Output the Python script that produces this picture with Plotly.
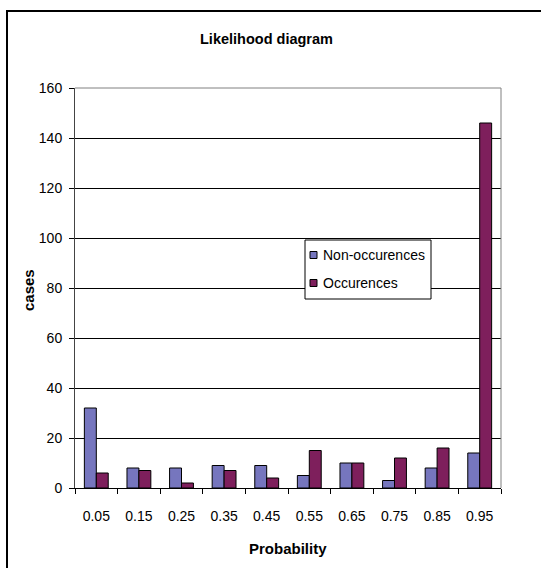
import plotly.graph_objects as go

# Probability bins and case counts per bin
probability = ["0.05", "0.15", "0.25", "0.35", "0.45", "0.55", "0.65", "0.75", "0.85", "0.95"]
non_occurences = [32, 8, 8, 9, 9, 5, 10, 3, 8, 14]
occurences = [6, 7, 2, 7, 4, 15, 10, 12, 16, 146]
y_ticks = [0, 20, 40, 60, 80, 100, 120, 140, 160]
series_names = ["Non-occurences", "Occurences"]
series_colors = ["#7676BE", "#7E1F5C"]

W, H = 541, 568
L, R, T, B = 75, 40, 88, 80
PW, PH = W - L - R, H - T - B


def px_x(x):
    return (x - L) / PW


def px_y(y):
    return (H - B - y) / PH


FONT = "Liberation Sans, Arial, sans-serif"

fig = go.Figure()
for name, vals, col in zip(series_names, [non_occurences, occurences], series_colors):
    fig.add_trace(go.Bar(
        x=probability, y=vals, name=name,
        marker=dict(color=col, line=dict(color="black", width=1)),
    ))

shapes = [
    # plot-area border on top and right
    dict(type="line", xref="paper", yref="paper", x0=0, x1=1, y0=1, y1=1,
         line=dict(color="#808080", width=1), layer="above"),
    dict(type="line", xref="paper", yref="paper", x0=1, x1=1, y0=0, y1=1,
         line=dict(color="#808080", width=1), layer="above"),
    # chart-area frame
    dict(type="rect", xref="paper", yref="paper",
         x0=px_x(7), x1=px_x(W + 10), y0=px_y(H + 10), y1=px_y(11),
         line=dict(color="black", width=2), layer="above"),
    # legend box
    dict(type="rect", xref="paper", yref="paper",
         x0=px_x(305), x1=px_x(431), y0=px_y(299), y1=px_y(240),
         line=dict(color="black", width=1), fillcolor="white", layer="above"),
]

annotations = [
    dict(text="<b>Likelihood diagram</b>", xref="paper", yref="paper",
         x=px_x(266), y=px_y(39), showarrow=False, xanchor="center", yanchor="middle",
         font=dict(family=FONT, size=14.5)),
    dict(text="<b>Probability</b>", xref="paper", yref="paper",
         x=px_x(288), y=px_y(548), showarrow=False, xanchor="center", yanchor="middle",
         font=dict(family=FONT, size=15)),
    dict(text="<b>cases</b>", xref="paper", yref="paper", textangle=-90,
         x=px_x(28), y=px_y(290), showarrow=False, xanchor="center", yanchor="middle",
         font=dict(family=FONT, size=15)),
]

# legend entries: small swatch plus label
for i, (name, col) in enumerate(zip(series_names, series_colors)):
    cy = 255 + 28 * i
    shapes.append(dict(type="rect", xref="paper", yref="paper",
                       x0=px_x(310), x1=px_x(317), y0=px_y(cy + 3.5), y1=px_y(cy - 3.5),
                       fillcolor=col, line=dict(color="black", width=1), layer="above"))
    annotations.append(dict(text=name, xref="paper", yref="paper",
                            x=px_x(321), y=px_y(cy), showarrow=False,
                            xanchor="left", yanchor="middle",
                            font=dict(family=FONT, size=14)))

fig.update_layout(
    width=W, height=H,
    margin=dict(l=L, r=R, t=T, b=B),
    paper_bgcolor="white", plot_bgcolor="white",
    barmode="group", bargap=0.44, bargroupgap=0,
    font=dict(family=FONT, size=14, color="black"),
    showlegend=False,
    xaxis=dict(
        type="category", showgrid=False, showline=True, linecolor="black", linewidth=1,
        ticks="outside", tickson="boundaries", ticklen=5, tickcolor="black",
        tickfont=dict(family=FONT, size=14), ticklabelstandoff=15,
    ),
    yaxis=dict(
        range=[0, 160], tickvals=y_ticks, showgrid=True, gridcolor="black", gridwidth=1,
        zeroline=False, showline=True, linecolor="#444444", linewidth=1,
        ticks="outside", ticklen=5, tickcolor="black",
        tickfont=dict(family=FONT, size=14), ticklabelstandoff=4,
    ),
    shapes=shapes,
    annotations=annotations,
)

fig.write_html("out.html")
